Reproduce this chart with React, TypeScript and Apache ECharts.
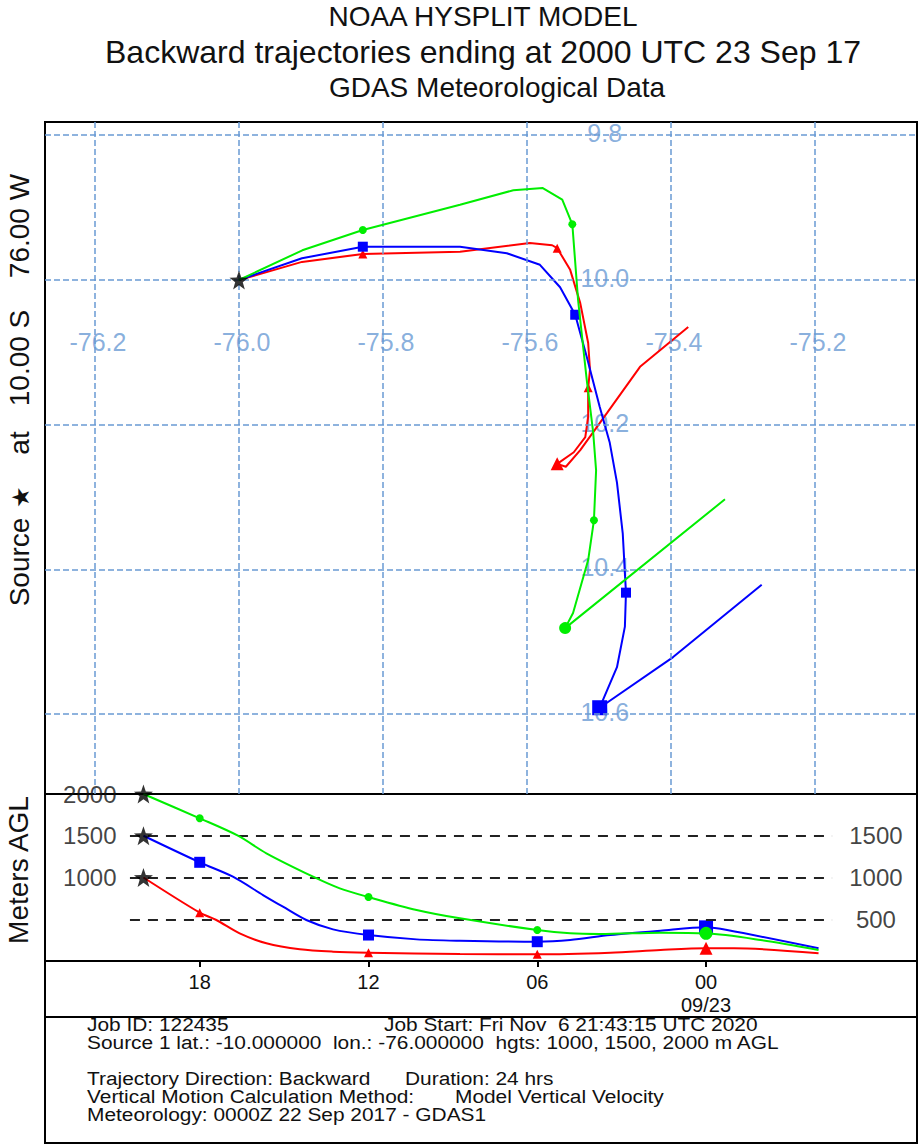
import React, { useEffect, useRef } from "react";
import * as echarts from "echarts";

const FONT = "'Liberation Sans', Arial, Helvetica, sans-serif";

// ---------- texts ----------
const titleLines = [
  "NOAA HYSPLIT MODEL",
  "Backward trajectories ending at 2000 UTC 23 Sep 17",
  "GDAS Meteorological Data",
];
const infoLeft = [
  "Job ID: 122435",
  "Source 1 lat.: -10.000000  lon.: -76.000000  hgts: 1000, 1500, 2000 m AGL",
  "",
  "Trajectory Direction: Backward",
  "Vertical Motion Calculation Method:",
  "Meteorology: 0000Z 22 Sep 2017 - GDAS1",
];
const infoRight = ["Job Start: Fri Nov  6 21:43:15 UTC 2020", "", "", "Duration: 24 hrs", "Model Vertical Velocity", ""];

// ---------- map data ----------
const source = [-76.0, -10.0];
const lonTicks = [-76.2, -76.0, -75.8, -75.6, -75.4, -75.2];
const lonTickLabels = ["-76.2", "-76.0", "-75.8", "-75.6", "-75.4", "-75.2"];
const latTicks = [-9.8, -10.0, -10.2, -10.4, -10.6];
const latTickLabels = ["9.8", "10.0", "10.2", "10.4", "10.6"];
const lonLabelLat = -10.086;
const latLabelLon = -75.492;

// [lon, lat, hours back]
const traj1000 = [
  [-76.0, -10.0, 0], [-75.9125, -9.975, 1], [-75.828, -9.964, 2], [-75.693, -9.961, 4],
  [-75.596, -9.949, 6], [-75.565, -9.952, 7], [-75.558, -9.956, 8], [-75.54, -9.986, 9],
  [-75.526, -10.032, 10], [-75.515, -10.087, 12], [-75.5125, -10.124, 13], [-75.515, -10.149, 14],
  [-75.515, -10.189, 15], [-75.519, -10.217, 16], [-75.535, -10.238, 18], [-75.558, -10.254, 20],
  [-75.546, -10.258, 21], [-75.526, -10.235, 21.5], [-75.489, -10.184, 22.5], [-75.443, -10.12, 23],
  [-75.376, -10.065, 24],
];
const traj1500 = [
  [-76.0, -10.0, 0], [-75.9125, -9.97, 1], [-75.828, -9.954, 2], [-75.693, -9.954, 4],
  [-75.628, -9.963, 5], [-75.582, -9.979, 6], [-75.554, -10.01, 7], [-75.533, -10.048, 8],
  [-75.517, -10.106, 9], [-75.499, -10.175, 10], [-75.485, -10.225, 11], [-75.475, -10.28, 12],
  [-75.467, -10.35, 13], [-75.4625, -10.432, 14], [-75.464, -10.479, 16], [-75.475, -10.535, 18],
  [-75.499, -10.591, 20], [-75.397, -10.521, 22], [-75.274, -10.421, 24],
];
const traj2000 = [
  [-76.0, -10.0, 0], [-75.912, -9.959, 1], [-75.828, -9.931, 2], [-75.693, -9.896, 4],
  [-75.619, -9.876, 5], [-75.578, -9.873, 6], [-75.551, -9.889, 7], [-75.537, -9.923, 8],
  [-75.529, -10.028, 10], [-75.517, -10.138, 11], [-75.508, -10.211, 12], [-75.504, -10.263, 13],
  [-75.507, -10.332, 14], [-75.515, -10.387, 16], [-75.536, -10.46, 18], [-75.547, -10.481, 20],
  [-75.325, -10.303, 24],
];

// ---------- height data [hours back, m AGL] ----------
const alt1000 = [
  [0, 1000], [2, 579], [2.59, 491], [3.42, 331], [4.37, 212], [5.56, 140], [6.74, 112], [8, 100],
  [11.25, 84], [14, 80], [16.6, 100], [18.38, 132], [20, 152], [20.99, 152], [24, 92],
];
const alt1500 = [
  [0, 1500], [2, 1182], [3.18, 1010], [4.25, 790], [4.96, 650], [5.79, 491], [6.74, 379], [8, 311],
  [9.71, 259], [11.25, 243], [14, 231], [15.17, 251], [16.6, 311], [18.38, 363], [20, 403],
  [20.75, 371], [24, 152],
];
const alt2000 = [
  [0, 2000], [2, 1709], [3.36, 1501], [4.37, 1290], [6.03, 1010], [6.98, 870], [8, 766], [9.71, 611],
  [11.25, 511], [14, 371], [15.17, 331], [16.24, 323], [18.38, 339], [20, 331], [21.94, 251], [24, 132],
];
const startHeights = [1000, 1500, 2000];
const refHeights = [500, 1000, 1500];
const timeTickHours = [2, 8, 14, 20];
const timeTickLabels = ["18", "12", "06", "00\n09/23"];
const markerHours = [2, 8, 14, 20];
const dayMarkerHour = 20;

const STAR =
  "path://M0,-10 L2.35,-3.24 L9.51,-3.09 L3.8,1.24 L5.88,8.09 L0,4 L-5.88,8.09 L-3.8,1.24 L-9.51,-3.09 L-2.35,-3.24 Z";
const GRID_BLUE = "#6a9ad4";
const RED = "#ff0000";
const BLUE = "#0000ff";
const GREEN = "#00ee00";

const sizeFor = (h: number, small: number, big: number) =>
  h === dayMarkerHour ? big : markerHours.includes(h) ? small : 0;

function buildOption() {
  const mapLine = (name: string, data: number[][], color: string, symbol: string, small: number, big: number, z: number) => ({
    name,
    type: "line",
    xAxisIndex: 0,
    yAxisIndex: 0,
    data,
    symbol,
    showSymbol: true,
    symbolSize: (v: number[]) => sizeFor(v[2], small, big),
    lineStyle: { color, width: 2 },
    itemStyle: { color },
    z,
    silent: true,
  });
  const altLine = (name: string, data: number[][], color: string, symbol: string, small: number, big: number, z: number) => ({
    name,
    type: "line",
    xAxisIndex: 1,
    yAxisIndex: 1,
    data,
    smooth: 0.3,
    symbol,
    showSymbol: true,
    symbolSize: (v: number[]) => sizeFor(v[0], small, big),
    lineStyle: { color, width: 2 },
    itemStyle: { color },
    z,
    silent: true,
  });

  const rotLabel = (text: string, x: number, y: number, size = 28) => ({
    type: "text",
    x,
    y,
    rotation: Math.PI / 2,
    style: {
      text,
      fill: "#111",
      font: `${size}px ${FONT}`,
      textAlign: "center",
      textVerticalAlign: "middle",
      align: "center",
      verticalAlign: "middle",
    },
  });

  const plainText = (text: string, x: number, y: number, size: number, align = "left", scaleX = 1) => ({
    type: "text",
    x,
    y,
    scaleX,
    style: {
      text,
      fill: "#111",
      font: `${size}px ${FONT}`,
      textAlign: align,
      textVerticalAlign: "middle",
      align,
      verticalAlign: "middle",
    },
  });

  const infoY = [1025, 1043, 1061, 1079, 1097, 1115];
  const infoGraphics: any[] = [];
  infoLeft.forEach((t, i) => {
    if (t) infoGraphics.push(plainText(t, 87, infoY[i], 18, "left", 1.16));
  });
  const rightX = [384, 0, 0, 405, 455, 0];
  infoRight.forEach((t, i) => {
    if (t) infoGraphics.push(plainText(t, rightX[i], infoY[i], 18, "left", 1.16));
  });

  return {
    animation: false,
    backgroundColor: "#fff",
    textStyle: { fontFamily: FONT },
    grid: [
      { left: 45, top: 122, width: 872, height: 672, show: true, borderColor: "#000", borderWidth: 2, backgroundColor: "transparent" },
      { left: 45, top: 794, width: 872, height: 167, show: true, borderColor: "#000", borderWidth: 2, backgroundColor: "transparent" },
    ],
    xAxis: [
      { gridIndex: 0, type: "value", min: -76.2694, max: -75.0583, show: false },
      {
        gridIndex: 1,
        type: "value",
        min: -3.5,
        max: 27.5,
        axisLine: { show: true, lineStyle: { color: "#000", width: 2 } },
        axisTick: { show: true, customValues: timeTickHours, length: 6, lineStyle: { color: "#000", width: 2 } },
        axisLabel: {
          show: true,
          customValues: timeTickHours,
          formatter: (v: number) => {
            const i = timeTickHours.indexOf(Math.round(v));
            return i >= 0 ? timeTickLabels[i] : "";
          },
          fontSize: 20,
          lineHeight: 23,
          color: "#111",
          margin: 9,
          fontFamily: FONT,
        },
        splitLine: { show: false },
      },
    ],
    yAxis: [
      { gridIndex: 0, type: "value", min: -10.7102, max: -9.7817, show: false },
      { gridIndex: 1, type: "value", min: 0, max: 2000, show: false },
    ],
    series: [
      {
        name: "lonLabels",
        type: "scatter",
        xAxisIndex: 0,
        yAxisIndex: 0,
        data: lonTicks.map((v, i) => ({ value: [v, lonLabelLat], name: lonTickLabels[i] })),
        symbolSize: 1,
        itemStyle: { color: "transparent" },
        label: {
          show: true,
          position: "inside",
          formatter: (p: any) => p.name,
          fontSize: 25,
          color: GRID_BLUE,
          fontFamily: FONT,
          offset: [3, 0],
        },
        silent: true,
        z: 1,
        markLine: {
          silent: true,
          symbol: ["none", "none"],
          label: { show: false },
          lineStyle: { color: GRID_BLUE, type: [6, 3], width: 1.5 },
          data: [...lonTicks.map((v) => ({ xAxis: v })), ...latTicks.map((v) => ({ yAxis: v }))],
        },
      },
      {
        name: "latLabels",
        type: "scatter",
        xAxisIndex: 0,
        yAxisIndex: 0,
        data: latTicks.map((v, i) => ({ value: [latLabelLon, v], name: latTickLabels[i] })),
        symbolSize: 1,
        itemStyle: { color: "transparent" },
        label: {
          show: true,
          position: "inside",
          formatter: (p: any) => p.name,
          fontSize: 25,
          color: GRID_BLUE,
          fontFamily: FONT,
          offset: [0, -2],
        },
        silent: true,
        z: 1,
      },
      mapLine("1000 m", traj1000, RED, "triangle", 9, 13, 3),
      mapLine("1500 m", traj1500, BLUE, "rect", 10, 15, 4),
      mapLine("2000 m", traj2000, GREEN, "circle", 8, 12, 5),
      {
        name: "source",
        type: "scatter",
        xAxisIndex: 0,
        yAxisIndex: 0,
        data: [source],
        symbol: STAR,
        symbolSize: 19,
        itemStyle: { color: "#000" },
        z: 10,
        silent: true,
      },
      altLine("h1000", alt1000, RED, "triangle", 9, 13, 3),
      altLine("h1500", alt1500, BLUE, "rect", 11, 14, 4),
      altLine("h2000", alt2000, GREEN, "circle", 8, 13, 5),
      {
        name: "startHeights",
        type: "scatter",
        xAxisIndex: 1,
        yAxisIndex: 1,
        data: startHeights.map((h) => [0, h]),
        symbol: STAR,
        symbolSize: 19,
        itemStyle: { color: "#000" },
        z: 10,
        silent: true,
      },
      {
        name: "leftHeightLabels",
        type: "scatter",
        xAxisIndex: 1,
        yAxisIndex: 1,
        data: startHeights.map((h) => [-0.94, h]),
        symbolSize: 1,
        itemStyle: { color: "transparent" },
        label: {
          show: true,
          position: "left",
          distance: 0,
          formatter: (p: any) => String(p.value[1]),
          fontSize: 24,
          color: "#111",
          fontFamily: FONT,
        },
        silent: true,
        z: 6,
      },
      {
        name: "refHeights",
        type: "scatter",
        xAxisIndex: 1,
        yAxisIndex: 1,
        data: refHeights.map((h) => [26.04, h]),
        symbolSize: 1,
        itemStyle: { color: "transparent" },
        label: {
          show: true,
          position: "inside",
          formatter: (p: any) => String(p.value[1]),
          fontSize: 24,
          color: "#111",
          fontFamily: FONT,
        },
        silent: true,
        z: 1,
        markLine: {
          silent: true,
          symbol: ["none", "none"],
          label: { show: false },
          lineStyle: { color: "#222", type: [10, 8], width: 2 },
          data: refHeights.map((h) => [{ coord: [-0.48, h] }, { coord: [24.48, h] }]),
        },
      },
    ],
    graphic: [
      plainText(titleLines[0], 483, 16, 28, "center"),
      plainText(titleLines[1], 483, 52, 32, "center"),
      plainText(titleLines[2], 497, 87, 28, "center"),
      rotLabel("Source", 19, 562),
      rotLabel("\u2605", 20, 497, 24),
      rotLabel("at", 19, 443),
      rotLabel("10.00 S", 19, 358),
      rotLabel("76.00 W", 19, 226),
      rotLabel("Meters AGL", 18, 870),
      {
        type: "rect",
        shape: { x: 45, y: 961, width: 872, height: 56 },
        style: { fill: "none", stroke: "#000", lineWidth: 2 },
      },
      {
        type: "rect",
        shape: { x: 45, y: 1017, width: 872, height: 126 },
        style: { fill: "none", stroke: "#000", lineWidth: 2 },
      },
      ...infoGraphics,
    ],
  };
}

export default function App() {
  const ref = useRef<HTMLDivElement>(null);
  useEffect(() => {
    document.body.style.margin = "0";
    if (!ref.current) return;
    const chart = echarts.init(ref.current, undefined, { renderer: "svg" });
    chart.setOption(buildOption() as any);
    return () => chart.dispose();
  }, []);
  return <div ref={ref} style={{ width: 920, height: 1146 }} />;
}
